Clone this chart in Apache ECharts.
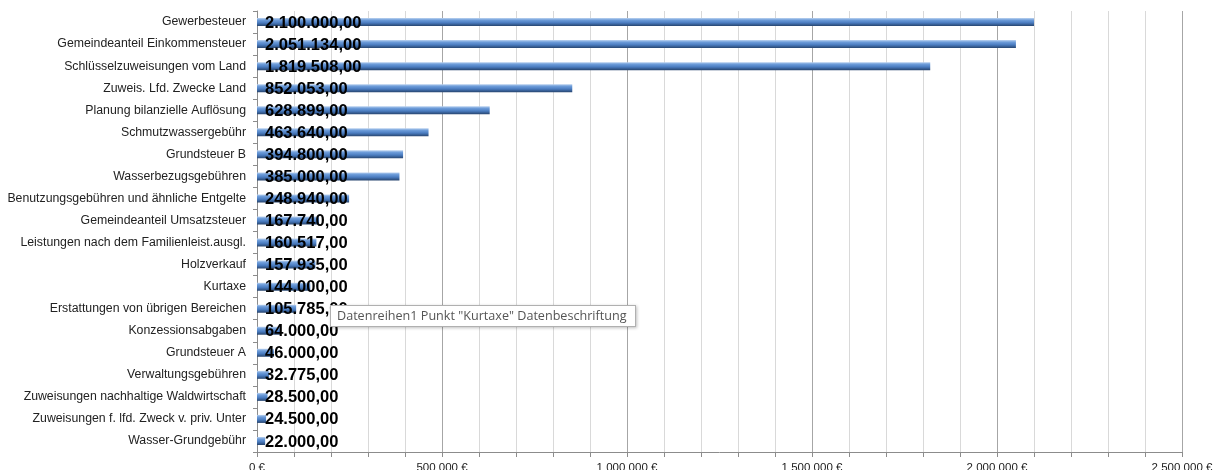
<!DOCTYPE html>
<html>
<head>
<meta charset="utf-8">
<script src="https://cdn.jsdelivr.net/npm/echarts@6/dist/echarts.min.js"></script>
<style>
html,body{margin:0;padding:0;background:#fff;}
#wrap{position:relative;width:1216px;height:470px;overflow:hidden;}
#c{width:1216px;height:470px;}
#tip{position:absolute;left:330px;top:305px;width:298px;height:20px;background:#fff;border:1px solid #b0b0b0;box-shadow:1px 1px 3px rgba(0,0,0,0.25);font-family:'Open Sans','Noto Sans',sans-serif;font-size:12.6px;color:#555;line-height:20px;padding-left:6px;box-sizing:content-box;white-space:nowrap;overflow:hidden;z-index:10;}
</style>
</head>
<body>
<div id="wrap">
<div id="c"></div>
<div id="tip">Datenreihen1 Punkt "Kurtaxe" Datenbeschriftung</div>
</div>
<script>
const categories = ["Gewerbesteuer","Gemeindeanteil Einkommensteuer","Schlüsselzuweisungen vom Land","Zuweis. Lfd. Zwecke Land","Planung bilanzielle Auflösung","Schmutzwassergebühr","Grundsteuer B","Wasserbezugsgebühren","Benutzungsgebühren und ähnliche Entgelte","Gemeindeanteil Umsatzsteuer","Leistungen nach dem Familienleist.ausgl.","Holzverkauf","Kurtaxe","Erstattungen von übrigen Bereichen","Konzessionsabgaben","Grundsteuer A","Verwaltungsgebühren","Zuweisungen nachhaltige Waldwirtschaft","Zuweisungen f. lfd. Zweck v. priv. Unter","Wasser-Grundgebühr"];
const values = [2100000,2051134,1819508,852053,628899,463640,394800,385000,248940,167740,160517,157935,144000,105785,64000,46000,32775,28500,24500,22000];
const axisTicks = [0,500000,1000000,1500000,2000000,2500000];

function groupDigits(n, sep){
  return String(Math.round(n)).replace(/\B(?=(\d{3})+(?!\d))/g, sep);
}
function deFmt(v){ return groupDigits(Math.floor(v), '.') + ',' + (Math.round((v % 1) * 100) + '').padStart(2,'0'); }

const chart = echarts.init(document.getElementById('c'), null, {renderer:'canvas'});
chart.setOption({
  animation:false,
  grid:{left:257, right:34, top:11, bottom:18, containLabel:false, outerBoundsMode:'none'},
  xAxis:{
    type:'value', min:0, max:2500000, interval:100000,
    axisLine:{show:true, lineStyle:{color:'#8c8c8c', width:1}},
    axisTick:{show:true, length:5, lineStyle:{color:'#8c8c8c'}},
    axisLabel:{
      fontFamily:'Liberation Sans, Arial', fontSize:11.5, color:'#222', margin:10,
      formatter:function(v){ return axisTicks.indexOf(v) >= 0 ? groupDigits(v,' ') + ' €' : ''; },
      showMinLabel:true, showMaxLabel:true
    },
    splitLine:{show:true, lineStyle:{color:['#a6a6a6','#d9d9d9','#d9d9d9','#d9d9d9','#d9d9d9'], width:1}}
  },
  yAxis:{
    type:'category', data:categories, inverse:true,
    axisLine:{show:true, lineStyle:{color:'#8c8c8c'}},
    axisTick:{show:true, length:4, interval:0, lineStyle:{color:'#8c8c8c'}},
    axisLabel:{fontFamily:'Liberation Sans, Arial', fontSize:12.3, color:'#222', margin:11, interval:0}
  },
  series:[{
    type:'bar', data:values, barWidth:8,
    itemStyle:{
      color:new echarts.graphic.LinearGradient(0,0,0,1,[
        {offset:0, color:'#bcd3f0'},
        {offset:0.25, color:'#6e9dda'},
        {offset:0.6, color:'#4a7cc0'},
        {offset:1, color:'#27456f'}
      ])
    },
    label:{
      show:true, position:'insideLeft', distance:8,
      fontFamily:'Liberation Sans, Arial', fontSize:16.5, fontWeight:'bold', color:'#000',
      offset:[0,1],
      formatter:function(p){ return deFmt(p.value); }
    }
  }]
});
</script>
</body>
</html>
